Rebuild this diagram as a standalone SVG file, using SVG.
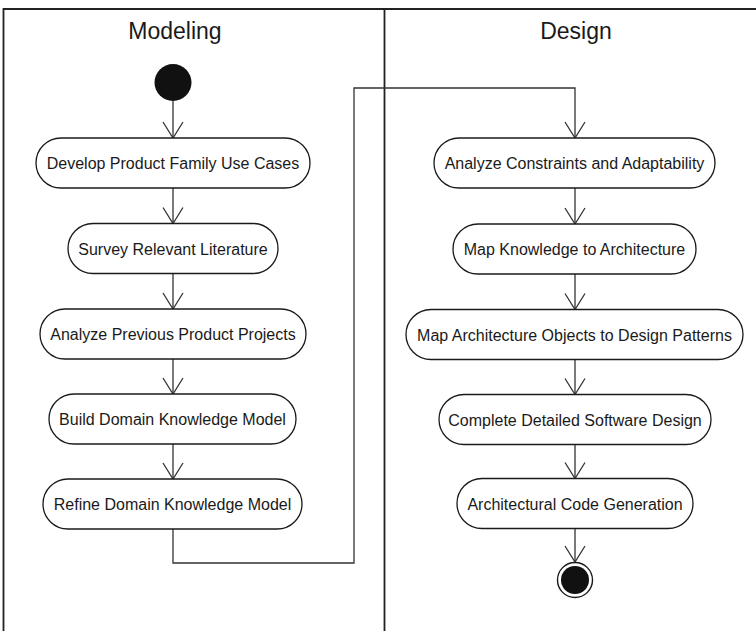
<svg xmlns="http://www.w3.org/2000/svg" width="756" height="631" viewBox="0 0 756 631">
  <style>
    .frame { fill: none; stroke: #222; stroke-width: 1.8; }
    .lane-title { font-family: "Liberation Sans", Arial, sans-serif; font-size: 23px; fill: #1a1a1a; text-anchor: middle; }
    .action rect { fill: #fff; stroke: #1a1a1a; stroke-width: 1.3; }
    .action text { font-family: "Liberation Sans", Arial, sans-serif; font-size: 16px; fill: #1a1a1a; text-anchor: middle; }
    .flow { fill: none; stroke: #333; stroke-width: 1.3; }
  </style>
  <defs>
    <marker id="open-arrow" markerUnits="userSpaceOnUse" markerWidth="20" markerHeight="24" viewBox="-18 -12 20 24" refX="0" refY="0" orient="auto" overflow="visible">
      <path d="M-16,-10 L0,0 L-16,10" fill="none" stroke="#333" stroke-width="1.3"/>
    </marker>
  </defs>

  <rect width="756" height="631" fill="#fff"/>

  <!-- swimlane frame -->
  <g id="lanes">
    <path class="frame" d="M3.5,631 V9 H756"/>
    <path class="frame" d="M384.5,9 V631"/>
    <text class="lane-title" x="175" y="39">Modeling</text>
    <text class="lane-title" x="576" y="39">Design</text>
  </g>

  <!-- control flows -->
  <g id="connectors">
    <path class="flow" d="M173,101 V138" marker-end="url(#open-arrow)"/>
    <path class="flow" d="M173,188 V223.5" marker-end="url(#open-arrow)"/>
    <path class="flow" d="M173,273.5 V309" marker-end="url(#open-arrow)"/>
    <path class="flow" d="M173,359 V394" marker-end="url(#open-arrow)"/>
    <path class="flow" d="M173,444 V479" marker-end="url(#open-arrow)"/>
    <path class="flow" d="M173,529 V563 H354 V88 H575 V138" marker-end="url(#open-arrow)"/>
    <path class="flow" d="M575,188 V224" marker-end="url(#open-arrow)"/>
    <path class="flow" d="M575,274 V309.5" marker-end="url(#open-arrow)"/>
    <path class="flow" d="M575,359.5 V394.5" marker-end="url(#open-arrow)"/>
    <path class="flow" d="M575,444.5 V478.5" marker-end="url(#open-arrow)"/>
    <path class="flow" d="M575,528.5 V562" marker-end="url(#open-arrow)"/>
  </g>

  <!-- initial node -->
  <g id="start">
    <circle cx="173" cy="82.5" r="18.5" fill="#111"/>
  </g>

  <!-- Modeling lane actions -->
  <g id="develop-use-cases" class="action">
    <rect x="36" y="138" width="274" height="50" rx="25"/>
    <text x="173" y="169">Develop Product Family Use Cases</text>
  </g>
  <g id="survey-literature" class="action">
    <rect x="68" y="223.5" width="210" height="50" rx="25"/>
    <text x="173" y="254.5">Survey Relevant Literature</text>
  </g>
  <g id="analyze-previous" class="action">
    <rect x="40" y="309" width="266" height="50" rx="25"/>
    <text x="173" y="340">Analyze Previous Product Projects</text>
  </g>
  <g id="build-model" class="action">
    <rect x="49" y="394" width="247" height="50" rx="25"/>
    <text x="172.5" y="425">Build Domain Knowledge Model</text>
  </g>
  <g id="refine-model" class="action">
    <rect x="43" y="479" width="259" height="50" rx="25"/>
    <text x="172.5" y="510">Refine Domain Knowledge Model</text>
  </g>

  <!-- Design lane actions -->
  <g id="analyze-constraints" class="action">
    <rect x="434" y="138" width="281" height="50" rx="25"/>
    <text x="574.5" y="169">Analyze Constraints and Adaptability</text>
  </g>
  <g id="map-knowledge" class="action">
    <rect x="453" y="224" width="243" height="50" rx="25"/>
    <text x="574.5" y="255">Map Knowledge to Architecture</text>
  </g>
  <g id="map-patterns" class="action">
    <rect x="406" y="309.5" width="337" height="50" rx="25"/>
    <text x="574.5" y="340.5">Map Architecture Objects to Design Patterns</text>
  </g>
  <g id="detailed-design" class="action">
    <rect x="439" y="394.5" width="272" height="50" rx="25"/>
    <text x="575" y="425.5">Complete Detailed Software Design</text>
  </g>
  <g id="code-generation" class="action">
    <rect x="457" y="478.5" width="236" height="50" rx="25"/>
    <text x="575" y="509.5">Architectural Code Generation</text>
  </g>

  <!-- final node -->
  <g id="end">
    <circle cx="575" cy="580" r="17.5" fill="#fff" stroke="#1a1a1a" stroke-width="1.4"/>
    <circle cx="575" cy="580" r="14" fill="#111"/>
  </g>
</svg>
